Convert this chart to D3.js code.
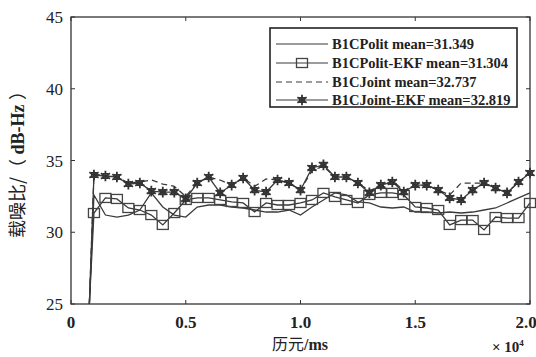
<!DOCTYPE html>
<html>
<head>
<meta charset="utf-8">
<script src="https://cdn.jsdelivr.net/npm/d3@7"></script>
<style>
  body { margin: 0; background: #fff; }
</style>
</head>
<body>
<svg id="chart" width="536" height="357"></svg>
<script>
// epochs (ms)
const epochs = [800, 1000, 1500, 2000, 2500, 3000, 3500, 4000, 4500, 5000, 5500, 6000, 6500, 7000,
  7500, 8000, 8500, 9000, 9500, 10000, 10500, 11000, 11500, 12000, 12500, 13000, 13500, 14000,
  14500, 15000, 15500, 16000, 16500, 17000, 17500, 18000, 18500, 19000, 19500, 20000];

const politCN = [25, 32.60, 31.20, 31.06, 31.20, 31.55, 32.74, 31.76, 31.20, 31.06, 31.76, 31.90, 31.90, 31.76,
  31.69, 31.55, 31.41, 31.41, 31.55, 31.20, 31.76, 32.25, 32.74, 32.60, 32.11, 32.04, 31.76, 31.69,
  31.76, 31.41, 31.41, 31.34, 31.41, 31.34, 31.41, 31.55, 31.69, 32.04, 32.39, 32.74];

const politEkfCN = [25, 31.34, 32.39, 32.32, 31.69, 31.55, 31.20, 30.51, 31.34, 32.25, 32.39, 32.39, 32.25, 32.11,
  32.04, 31.41, 32.04, 31.90, 31.90, 32.04, 32.25, 32.74, 32.46, 32.25, 32.04, 32.60, 32.74, 32.74,
  32.60, 31.76, 31.69, 31.55, 30.51, 30.85, 30.85, 30.16, 31.06, 30.99, 30.99, 32.04];

const jointCN = [25, 34.06, 33.92, 33.85, 33.43, 33.50, 33.64, 33.36, 33.20, 32.50, 33.43, 33.85, 33.64, 33.29,
  33.78, 33.20, 33.71, 33.64, 33.43, 32.94, 34.30, 34.60, 33.85, 33.85, 33.43, 32.90, 33.20, 33.60,
  32.90, 33.29, 33.29, 32.94, 32.60, 33.43, 33.43, 33.43, 33.08, 32.74, 33.50, 34.13];

const jointEkfCN = [25, 33.99, 33.92, 33.85, 33.36, 33.43, 32.87, 32.80, 32.80, 32.32, 33.43, 33.85, 32.74, 33.29,
  33.78, 32.94, 32.80, 33.64, 33.43, 32.94, 34.48, 34.69, 33.85, 33.85, 33.43, 32.74, 33.29, 33.50,
  32.80, 33.29, 33.29, 32.94, 32.39, 32.25, 32.94, 33.43, 33.08, 32.74, 33.50, 34.13];

const seriesNames = ["B1CPolit mean=31.349", "B1CPolit-EKF mean=31.304", "B1CJoint mean=32.737", "B1CJoint-EKF mean=32.819"];
const xTicks = [0, 5000, 10000, 15000, 20000];
const xTickLabels = ["0", "0.5", "1.0", "1.5", "2.0"];
const yTicks = [25, 30, 35, 40, 45];

const serif = "'Liberation Serif', 'Times New Roman', Times, 'DejaVu Serif', serif";
const cjk = "'Noto Sans CJK SC', 'Noto Sans CJK JP', sans-serif";

const svg = d3.select("#chart");
const pLeft = 71, pRight = 530, pTop = 17, pBottom = 304;

const x = d3.scaleLinear().domain([0, 20000]).range([pLeft, pRight]);
const y = d3.scaleLinear().domain([25, 45]).range([pBottom, pTop]);

const ink = "#333";

const series = [
  { name: seriesNames[0], values: politCN, dash: null, marker: null },
  { name: seriesNames[1], values: politEkfCN, dash: null, marker: "square" },
  { name: seriesNames[2], values: jointCN, dash: "6,4", marker: null },
  { name: seriesNames[3], values: jointEkfCN, dash: null, marker: "star" }
];

// frame
svg.append("rect")
  .attr("x", pLeft).attr("y", pTop)
  .attr("width", pRight - pLeft).attr("height", pBottom - pTop)
  .attr("fill", "none").attr("stroke", ink).attr("stroke-width", 1.3);

// ticks inward (all four sides)
const tickLen = 4;
xTicks.forEach(t => {
  svg.append("line").attr("x1", x(t)).attr("x2", x(t)).attr("y1", pBottom).attr("y2", pBottom - tickLen)
    .attr("stroke", ink);
  svg.append("line").attr("x1", x(t)).attr("x2", x(t)).attr("y1", pTop).attr("y2", pTop + tickLen)
    .attr("stroke", ink);
});
yTicks.forEach(t => {
  svg.append("line").attr("x1", pLeft).attr("x2", pLeft + tickLen).attr("y1", y(t)).attr("y2", y(t))
    .attr("stroke", ink);
  svg.append("line").attr("x1", pRight).attr("x2", pRight - tickLen).attr("y1", y(t)).attr("y2", y(t))
    .attr("stroke", ink);
});

// tick labels
svg.selectAll(".xl").data(xTicks).enter().append("text")
  .attr("x", (d, i) => i === xTicks.length - 1 ? x(d) - 4 : x(d)).attr("y", 328)
  .attr("text-anchor", "middle")
  .attr("font-family", serif)
  .attr("font-size", 17).attr("font-weight", "bold").attr("fill", "#222")
  .text((d, i) => xTickLabels[i]);

svg.selectAll(".yl").data(yTicks).enter().append("text")
  .attr("x", 63).attr("y", d => y(d) + 6)
  .attr("text-anchor", "end")
  .attr("font-family", serif)
  .attr("font-size", 17).attr("fill", "#222")
  .text(d => d);

// axis titles
const xt = svg.append("text").attr("x", 300).attr("y", 350).attr("text-anchor", "middle")
  .attr("font-size", 16).attr("fill", "#222");
xt.append("tspan").attr("font-family", cjk).text("历元");
xt.append("tspan").attr("font-family", serif).attr("font-weight", "bold").text("/ms");

const ex = svg.append("text").attr("x", 492).attr("y", 352).attr("font-size", 15)
  .attr("font-family", serif).attr("font-weight", "bold").attr("fill", "#222");
ex.append("tspan").text("× 10");
ex.append("tspan").attr("dy", -6).attr("font-size", 9).text("4");

const yt = svg.append("text")
  .attr("transform", "translate(24,160) rotate(-90)")
  .attr("text-anchor", "middle").attr("font-size", 18).attr("fill", "#222");
yt.append("tspan").attr("font-family", cjk).text("载噪比/（");
yt.append("tspan").attr("font-family", serif).attr("font-weight", "bold").text(" dB-Hz ");
yt.append("tspan").attr("font-family", cjk).text("）");

// lines
const line = d3.line().x((d, i) => x(epochs[i])).y(d => y(d));

function drawMarker(g, type, cx, cy) {
  if (type === "square") {
    g.append("rect").attr("x", cx - 5.5).attr("y", cy - 4.5).attr("width", 11).attr("height", 9)
      .attr("fill", "none").attr("stroke", "#444").attr("stroke-width", 1.3);
  } else if (type === "star") {
    g.append("path").attr("transform", `translate(${cx},${cy})`)
      .attr("d", d3.symbol().type(d3.symbolAsterisk).size(80)())
      .attr("fill", "none").attr("stroke", "#333").attr("stroke-width", 1.8);
    g.append("path").attr("transform", `translate(${cx},${cy})`)
      .attr("d", d3.symbol().type(d3.symbolSquare2).size(30)())
      .attr("fill", "none").attr("stroke", "#333").attr("stroke-width", 1.3);
  }
}

const plot = svg.append("g");
series.forEach(s => {
  plot.append("path")
    .attr("d", line(s.values))
    .attr("fill", "none")
    .attr("stroke", "#3a3a3a")
    .attr("stroke-width", 1.3)
    .attr("stroke-dasharray", s.dash);
  if (s.marker) {
    const mg = plot.append("g");
    s.values.forEach((v, i) => {
      if (i === 0) return;
      drawMarker(mg, s.marker, x(epochs[i]), y(v));
    });
  }
});

// legend
const lg = svg.append("g");
lg.append("rect").attr("x", 270).attr("y", 28).attr("width", 247).attr("height", 79)
  .attr("fill", "#fff").attr("stroke", "#222").attr("stroke-width", 1.6);
const rowY = [44, 63, 82, 100];
series.forEach((s, i) => {
  lg.append("line").attr("x1", 276).attr("x2", 328).attr("y1", rowY[i]).attr("y2", rowY[i])
    .attr("stroke", "#3a3a3a").attr("stroke-width", 1.2).attr("stroke-dasharray", s.dash);
  if (s.marker) drawMarker(lg, s.marker, 302, rowY[i]);
  lg.append("text").attr("x", 332).attr("y", rowY[i] + 5)
    .attr("font-family", serif)
    .attr("font-size", 14.5).attr("font-weight", "bold").attr("fill", "#222")
    .text(s.name);
});
</script>
</body>
</html>
